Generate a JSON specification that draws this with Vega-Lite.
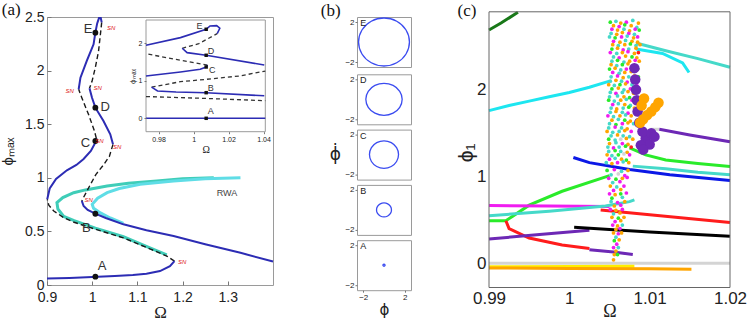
{
"$schema":"https://vega.github.io/schema/vega-lite/v6.json",
"padding":{"left":0,"top":0,"right":0,"bottom":0},
"background":"white",
"config":{"view":{"stroke":"#9a9a9a","strokeWidth":1},"font":"Liberation Sans",
"axis":{"grid":false,"domain":false,"labelFlush":false,"labelOverlap":false,"labelFont":"Liberation Sans","titleFont":"Liberation Sans","titleFontWeight":"normal","labelColor":"#222","titleColor":"#222","tickColor":"#777"}},
"resolve":{"scale":{"color":"independent"}},
"datasets":{
"a_lines":[
{"s":"L1","b":"stable","x":0.9,"y":0.06},{"s":"L1","b":"stable","x":0.95,"y":0.065},{"s":"L1","b":"stable","x":1.0,"y":0.074},{"s":"L1","b":"stable","x":1.05,"y":0.083},{"s":"L1","b":"stable","x":1.09,"y":0.093},{"s":"L1","b":"stable","x":1.12,"y":0.105},{"s":"L1","b":"stable","x":1.15,"y":0.13},{"s":"L1","b":"stable","x":1.172,"y":0.175},{"s":"L1","b":"stable","x":1.182,"y":0.222},
{"s":"U1","b":"unstable","x":1.182,"y":0.222},{"s":"U1","b":"unstable","x":1.165,"y":0.27},{"s":"U1","b":"unstable","x":1.129,"y":0.335},{"s":"U1","b":"unstable","x":1.069,"y":0.44},{"s":"U1","b":"unstable","x":1.007,"y":0.52},{"s":"U1","b":"unstable","x":0.96,"y":0.585},{"s":"U1","b":"unstable","x":0.937,"y":0.628},{"s":"U1","b":"unstable","x":0.915,"y":0.69},{"s":"U1","b":"unstable","x":0.904,"y":0.745},{"s":"U1","b":"unstable","x":0.9005,"y":0.8},
{"s":"S2","b":"stable","x":0.9005,"y":0.8},{"s":"S2","b":"stable","x":0.906,"y":0.9},{"s":"S2","b":"stable","x":0.92,"y":0.99},{"s":"S2","b":"stable","x":0.944,"y":1.07},{"s":"S2","b":"stable","x":0.965,"y":1.12},{"s":"S2","b":"stable","x":0.981,"y":1.175},{"s":"S2","b":"stable","x":0.997,"y":1.25},{"s":"S2","b":"stable","x":1.006,"y":1.32},{"s":"S2","b":"stable","x":1.009,"y":1.37},
{"s":"U2","b":"unstable","x":1.009,"y":1.37},{"s":"U2","b":"unstable","x":1.005,"y":1.437},{"s":"U2","b":"unstable","x":0.992,"y":1.59},{"s":"U2","b":"unstable","x":0.977,"y":1.747},{"s":"U2","b":"unstable","x":0.97,"y":1.825},
{"s":"S3","b":"stable","x":0.97,"y":1.825},{"s":"S3","b":"stable","x":0.974,"y":1.934},{"s":"S3","b":"stable","x":0.988,"y":2.09},{"s":"S3","b":"stable","x":1.003,"y":2.245},{"s":"S3","b":"stable","x":1.007,"y":2.354},{"s":"S3","b":"stable","x":1.011,"y":2.44},{"s":"S3","b":"stable","x":1.015,"y":2.49},{"s":"S3","b":"stable","x":1.019,"y":2.49},{"s":"S3","b":"stable","x":1.021,"y":2.45},
{"s":"U3","b":"unstable","x":1.021,"y":2.45},{"s":"U3","b":"unstable","x":1.019,"y":2.37},{"s":"U3","b":"unstable","x":1.014,"y":2.18},{"s":"U3","b":"unstable","x":1.007,"y":2.03},{"s":"U3","b":"unstable","x":0.9996,"y":1.9},{"s":"U3","b":"unstable","x":0.994,"y":1.835},
{"s":"S4","b":"stable","x":0.994,"y":1.835},{"s":"S4","b":"stable","x":0.9996,"y":1.747},{"s":"S4","b":"stable","x":1.007,"y":1.654},{"s":"S4","b":"stable","x":1.025,"y":1.53},{"s":"S4","b":"stable","x":1.04,"y":1.406},{"s":"S4","b":"stable","x":1.046,"y":1.312},
{"s":"U4","b":"unstable","x":1.046,"y":1.312},{"s":"U4","b":"unstable","x":1.038,"y":1.2},{"s":"U4","b":"unstable","x":1.025,"y":1.12},{"s":"U4","b":"unstable","x":1.008,"y":1.03},{"s":"U4","b":"unstable","x":0.99,"y":0.89},{"s":"U4","b":"unstable","x":0.98,"y":0.81},{"s":"U4","b":"unstable","x":0.977,"y":0.784},
{"s":"S5","b":"stable","x":0.977,"y":0.784},{"s":"S5","b":"stable","x":0.981,"y":0.737},{"s":"S5","b":"stable","x":0.99,"y":0.7},{"s":"S5","b":"stable","x":1.007,"y":0.665},{"s":"S5","b":"stable","x":1.03,"y":0.625},{"s":"S5","b":"stable","x":1.069,"y":0.566},{"s":"S5","b":"stable","x":1.12,"y":0.51},{"s":"S5","b":"stable","x":1.18,"y":0.457},{"s":"S5","b":"stable","x":1.25,"y":0.38},{"s":"S5","b":"stable","x":1.328,"y":0.3},{"s":"S5","b":"stable","x":1.4,"y":0.22},
{"s":"R1","b":"rwa1","x":1.269,"y":1.0},{"s":"R1","b":"rwa1","x":1.2,"y":0.99},{"s":"R1","b":"rwa1","x":1.143,"y":0.97},{"s":"R1","b":"rwa1","x":1.08,"y":0.95},{"s":"R1","b":"rwa1","x":1.033,"y":0.923},{"s":"R1","b":"rwa1","x":0.985,"y":0.887},{"s":"R1","b":"rwa1","x":0.959,"y":0.861},{"s":"R1","b":"rwa1","x":0.935,"y":0.815},{"s":"R1","b":"rwa1","x":0.922,"y":0.768},{"s":"R1","b":"rwa1","x":0.924,"y":0.71},{"s":"R1","b":"rwa1","x":0.937,"y":0.64},{"s":"R1","b":"rwa1","x":0.96,"y":0.6},{"s":"R1","b":"rwa1","x":1.007,"y":0.53},{"s":"R1","b":"rwa1","x":1.069,"y":0.45},{"s":"R1","b":"rwa1","x":1.129,"y":0.343},{"s":"R1","b":"rwa1","x":1.165,"y":0.28},
{"s":"R2","b":"rwa2","x":1.328,"y":1.0},{"s":"R2","b":"rwa2","x":1.25,"y":0.99},{"s":"R2","b":"rwa2","x":1.18,"y":0.97},{"s":"R2","b":"rwa2","x":1.106,"y":0.94},{"s":"R2","b":"rwa2","x":1.06,"y":0.9},{"s":"R2","b":"rwa2","x":1.033,"y":0.862},{"s":"R2","b":"rwa2","x":1.012,"y":0.81},{"s":"R2","b":"rwa2","x":1.0,"y":0.753},{"s":"R2","b":"rwa2","x":1.003,"y":0.715},{"s":"R2","b":"rwa2","x":1.015,"y":0.68},{"s":"R2","b":"rwa2","x":1.04,"y":0.625},{"s":"R2","b":"rwa2","x":1.069,"y":0.575}
],
"a_pts":[{"x":1.007,"y":0.078},{"x":1.007,"y":0.665},{"x":1.007,"y":1.343},{"x":1.007,"y":1.654},{"x":1.007,"y":2.354}],
"a_lbl":[{"x":0.9907,"y":2.385,"t":"E"},{"x":1.029,"y":1.66,"t":"D"},{"x":0.985,"y":1.327,"t":"C"},{"x":0.987,"y":0.535,"t":"B"},{"x":1.0217,"y":0.177,"t":"A"}],
"a_sn":[{"x":1.042,"y":2.4,"t":"SN"},{"x":0.95,"y":1.81,"t":"SN"},{"x":1.012,"y":1.835,"t":"SN"},{"x":1.016,"y":1.34,"t":"SN"},{"x":1.055,"y":1.29,"t":"SN"},{"x":0.992,"y":0.79,"t":"SN"},{"x":1.199,"y":0.21,"t":"SN"}],
"i_lines":[
{"s":"iA","b":"stable","x":0.9728,"y":0},{"s":"iA","b":"stable","x":1.041,"y":0},
{"s":"iU1","b":"unstable","x":0.9728,"y":0.58},{"s":"iU1","b":"unstable","x":1.007,"y":0.53},{"s":"iU1","b":"unstable","x":1.041,"y":0.47},
{"s":"iB","b":"stable","x":0.976,"y":0.83},{"s":"iB","b":"stable","x":0.9794,"y":0.728},{"s":"iB","b":"stable","x":0.99,"y":0.7},{"s":"iB","b":"stable","x":1.0072,"y":0.683},{"s":"iB","b":"stable","x":1.0404,"y":0.6},
{"s":"iU2","b":"unstable","x":0.976,"y":0.83},{"s":"iU2","b":"unstable","x":0.9925,"y":0.976},{"s":"iU2","b":"unstable","x":1.0075,"y":1.04},{"s":"iU2","b":"unstable","x":1.0263,"y":1.128},{"s":"iU2","b":"unstable","x":1.041,"y":1.26},
{"s":"iC","b":"stable","x":0.9728,"y":1.128},{"s":"iC","b":"stable","x":0.9925,"y":1.235},{"s":"iC","b":"stable","x":1.0038,"y":1.307},{"s":"iC","b":"stable","x":1.0072,"y":1.368},{"s":"iC","b":"stable","x":1.0079,"y":1.42},
{"s":"iU3","b":"unstable","x":1.0079,"y":1.42},{"s":"iU3","b":"unstable","x":0.99,"y":1.57},{"s":"iU3","b":"unstable","x":0.9728,"y":1.72},
{"s":"iD","b":"stable","x":0.9935,"y":1.867},{"s":"iD","b":"stable","x":0.9963,"y":1.75},{"s":"iD","b":"stable","x":1.0072,"y":1.68},{"s":"iD","b":"stable","x":1.0404,"y":1.42},
{"s":"iU4","b":"unstable","x":0.9935,"y":1.867},{"s":"iU4","b":"unstable","x":1.003,"y":1.99},{"s":"iU4","b":"unstable","x":1.0135,"y":2.256},
{"s":"iE","b":"stable","x":0.9728,"y":1.947},{"s":"iE","b":"stable","x":0.9925,"y":2.15},{"s":"iE","b":"stable","x":1.0072,"y":2.373},{"s":"iE","b":"stable","x":1.0094,"y":2.46},{"s":"iE","b":"stable","x":1.0132,"y":2.47},{"s":"iE","b":"stable","x":1.015,"y":2.4},{"s":"iE","b":"stable","x":1.0135,"y":2.256}
],
"i_pts":[{"x":1.0072,"y":0},{"x":1.0072,"y":0.683},{"x":1.0072,"y":1.368},{"x":1.0072,"y":1.68},{"x":1.0072,"y":2.373}],
"i_lbl":[{"x":1.0098,"y":0.2,"t":"A"},{"x":1.0098,"y":0.8,"t":"B"},{"x":1.0107,"y":1.28,"t":"C"},{"x":1.01,"y":1.795,"t":"D"},{"x":1.0034,"y":2.46,"t":"E"}],
"circ":[
{"p":"E","x":2.45,"y":0},{"p":"E","x":2.122,"y":1.2},{"p":"E","x":1.225,"y":2.078},{"p":"E","x":0,"y":2.4},{"p":"E","x":-1.225,"y":2.078},{"p":"E","x":-2.122,"y":1.2},{"p":"E","x":-2.45,"y":0},{"p":"E","x":-2.122,"y":-1.2},{"p":"E","x":-1.225,"y":-2.078},{"p":"E","x":0,"y":-2.4},{"p":"E","x":1.225,"y":-2.078},{"p":"E","x":2.122,"y":-1.2},
{"p":"D","x":1.75,"y":0},{"p":"D","x":1.516,"y":0.8},{"p":"D","x":0.875,"y":1.386},{"p":"D","x":0,"y":1.6},{"p":"D","x":-0.875,"y":1.386},{"p":"D","x":-1.516,"y":0.8},{"p":"D","x":-1.75,"y":0},{"p":"D","x":-1.516,"y":-0.8},{"p":"D","x":-0.875,"y":-1.386},{"p":"D","x":0,"y":-1.6},{"p":"D","x":0.875,"y":-1.386},{"p":"D","x":1.516,"y":-0.8},
{"p":"C","x":1.4,"y":0},{"p":"C","x":1.212,"y":0.69},{"p":"C","x":0.7,"y":1.195},{"p":"C","x":0,"y":1.38},{"p":"C","x":-0.7,"y":1.195},{"p":"C","x":-1.212,"y":0.69},{"p":"C","x":-1.4,"y":0},{"p":"C","x":-1.212,"y":-0.69},{"p":"C","x":-0.7,"y":-1.195},{"p":"C","x":0,"y":-1.38},{"p":"C","x":0.7,"y":-1.195},{"p":"C","x":1.212,"y":-0.69},
{"p":"B","x":0.72,"y":0},{"p":"B","x":0.624,"y":0.35},{"p":"B","x":0.36,"y":0.606},{"p":"B","x":0,"y":0.7},{"p":"B","x":-0.36,"y":0.606},{"p":"B","x":-0.624,"y":0.35},{"p":"B","x":-0.72,"y":0},{"p":"B","x":-0.624,"y":-0.35},{"p":"B","x":-0.36,"y":-0.606},{"p":"B","x":0,"y":-0.7},{"p":"B","x":0.36,"y":-0.606},{"p":"B","x":0.624,"y":-0.35},
{"p":"A","x":0.1,"y":0},{"p":"A","x":0.087,"y":0.05},{"p":"A","x":0.05,"y":0.087},{"p":"A","x":0,"y":0.1},{"p":"A","x":-0.05,"y":0.087},{"p":"A","x":-0.087,"y":0.05},{"p":"A","x":-0.1,"y":0},{"p":"A","x":-0.087,"y":-0.05},{"p":"A","x":-0.05,"y":-0.087},{"p":"A","x":0,"y":-0.1},{"p":"A","x":0.05,"y":-0.087},{"p":"A","x":0.087,"y":-0.05}
],
"c_lines":[
{"s":"c1","col":"darkgreen","x":0.99,"y":2.69},{"s":"c1","col":"darkgreen","x":0.9915,"y":2.77},{"s":"c1","col":"darkgreen","x":0.9936,"y":2.895},
{"s":"c2","col":"cyan","x":0.99,"y":1.76},{"s":"c2","col":"cyan","x":0.9925,"y":1.82},{"s":"c2","col":"cyan","x":0.995,"y":1.87},{"s":"c2","col":"cyan","x":0.9975,"y":1.92},{"s":"c2","col":"cyan","x":1.0,"y":1.97},{"s":"c2","col":"cyan","x":1.0025,"y":2.03},{"s":"c2","col":"cyan","x":1.005,"y":2.1},
{"s":"c3","col":"turq","x":1.0083,"y":2.54},{"s":"c3","col":"turq","x":1.012,"y":2.45},{"s":"c3","col":"turq","x":1.016,"y":2.36},{"s":"c3","col":"turq","x":1.02,"y":2.26},
{"s":"c4","col":"cyan","x":1.0083,"y":2.47},{"s":"c4","col":"cyan","x":1.0116,"y":2.42},{"s":"c4","col":"cyan","x":1.0141,"y":2.31},{"s":"c4","col":"cyan","x":1.0149,"y":2.2},
{"s":"c5b","col":"lgray","x":1.0101,"y":1.545},{"s":"c5b","col":"lgray","x":1.0112,"y":1.545},
{"s":"c5","col":"purple","x":1.0112,"y":1.545},{"s":"c5","col":"purple","x":1.015,"y":1.48},{"s":"c5","col":"purple","x":1.02,"y":1.4},
{"s":"c6","col":"green","x":1.0075,"y":1.33},{"s":"c6","col":"green","x":1.0095,"y":1.25},{"s":"c6","col":"green","x":1.012,"y":1.19},{"s":"c6","col":"green","x":1.016,"y":1.15},{"s":"c6","col":"green","x":1.02,"y":1.115},
{"s":"c7","col":"turq","x":1.0079,"y":1.12},{"s":"c7","col":"turq","x":1.012,"y":1.09},{"s":"c7","col":"turq","x":1.016,"y":1.05},{"s":"c7","col":"turq","x":1.02,"y":1.02},
{"s":"c8","col":"blue","x":1.0005,"y":1.22},{"s":"c8","col":"blue","x":1.0025,"y":1.16},{"s":"c8","col":"blue","x":1.0075,"y":1.08},{"s":"c8","col":"blue","x":1.0125,"y":1.02},{"s":"c8","col":"blue","x":1.02,"y":0.955},
{"s":"c9","col":"green","x":0.99,"y":0.49},{"s":"c9","col":"green","x":0.9921,"y":0.49},{"s":"c9","col":"green","x":0.9929,"y":0.54},{"s":"c9","col":"green","x":0.995,"y":0.67},{"s":"c9","col":"green","x":0.9991,"y":0.83},{"s":"c9","col":"green","x":1.005,"y":1.01},
{"s":"c10","col":"magenta","x":0.99,"y":0.665},{"s":"c10","col":"magenta","x":0.9975,"y":0.66},{"s":"c10","col":"magenta","x":1.005,"y":0.655},
{"s":"c11","col":"turq","x":0.99,"y":0.547},{"s":"c11","col":"turq","x":0.9975,"y":0.6},{"s":"c11","col":"turq","x":1.0045,"y":0.66},{"s":"c11","col":"turq","x":1.0075,"y":0.71},{"s":"c11","col":"turq","x":1.0081,"y":0.73},
{"s":"c12","col":"red","x":1.0039,"y":0.615},{"s":"c12","col":"red","x":1.01,"y":0.56},{"s":"c12","col":"red","x":1.02,"y":0.47},
{"s":"c13","col":"red","x":0.9921,"y":0.49},{"s":"c13","col":"red","x":0.9925,"y":0.4},{"s":"c13","col":"red","x":0.995,"y":0.29},{"s":"c13","col":"red","x":0.9991,"y":0.21},{"s":"c13","col":"red","x":1.0025,"y":0.17},
{"s":"c14","col":"purple","x":0.99,"y":0.28},{"s":"c14","col":"purple","x":0.9963,"y":0.33},{"s":"c14","col":"purple","x":1.0025,"y":0.38},
{"s":"c14b","col":"purple","x":1.0025,"y":0.155},{"s":"c14b","col":"purple","x":1.0055,"y":0.13},{"s":"c14b","col":"purple","x":1.0079,"y":0.1},
{"s":"c15","col":"black","x":1.0006,"y":0.415},{"s":"c15","col":"black","x":1.005,"y":0.39},{"s":"c15","col":"black","x":1.01,"y":0.36},{"s":"c15","col":"black","x":1.02,"y":0.31},
{"s":"c16","col":"lgray","x":0.99,"y":0.0},{"s":"c16","col":"lgray","x":1.02,"y":0.0},
{"s":"c17","col":"yellow","x":0.99,"y":-0.04},{"s":"c17","col":"yellow","x":1.0081,"y":-0.035},
{"s":"c18","col":"orange","x":0.99,"y":-0.055},{"s":"c18","col":"orange","x":1.0,"y":-0.06},{"s":"c18","col":"orange","x":1.01,"y":-0.065},{"s":"c18","col":"orange","x":1.0152,"y":-0.07}
],
"cloud":[
{"x":1.0051,"y":2.78,"col":"green"},{"x":1.0058,"y":2.79,"col":"turq"},{"x":1.0064,"y":2.77,"col":"orange"},{"x":1.0071,"y":2.78,"col":"magenta"},{"x":1.0079,"y":2.8,"col":"turq"},{"x":1.0086,"y":2.77,"col":"orange"},
{"x":1.0055,"y":2.74,"col":"orange"},{"x":1.0062,"y":2.73,"col":"magenta"},{"x":1.0069,"y":2.75,"col":"green"},{"x":1.0077,"y":2.74,"col":"orange"},{"x":1.0084,"y":2.72,"col":"turq"},
{"x":1.0053,"y":2.7,"col":"magenta"},{"x":1.006,"y":2.69,"col":"orange"},{"x":1.0068,"y":2.7,"col":"turq"},{"x":1.0075,"y":2.68,"col":"orange"},{"x":1.0082,"y":2.7,"col":"magenta"},{"x":1.0087,"y":2.69,"col":"green"},
{"x":1.0052,"y":2.65,"col":"turq"},{"x":1.0059,"y":2.64,"col":"orange"},{"x":1.0066,"y":2.66,"col":"orange"},{"x":1.0074,"y":2.65,"col":"magenta"},{"x":1.0081,"y":2.64,"col":"turq"},
{"x":1.005,"y":2.61,"col":"turq"},{"x":1.0057,"y":2.6,"col":"green"},{"x":1.0065,"y":2.61,"col":"magenta"},{"x":1.0072,"y":2.62,"col":"turq"},{"x":1.008,"y":2.6,"col":"orange"},{"x":1.0085,"y":2.61,"col":"magenta"},
{"x":1.0055,"y":2.56,"col":"magenta"},{"x":1.0063,"y":2.55,"col":"orange"},{"x":1.007,"y":2.57,"col":"turq"},{"x":1.0078,"y":2.56,"col":"orange"},{"x":1.0085,"y":2.55,"col":"orange"},
{"x":1.0054,"y":2.52,"col":"orange"},{"x":1.0061,"y":2.51,"col":"turq"},{"x":1.0069,"y":2.52,"col":"orange"},{"x":1.0076,"y":2.53,"col":"green"},{"x":1.0083,"y":2.51,"col":"turq"},{"x":1.0088,"y":2.52,"col":"orange"},
{"x":1.0053,"y":2.47,"col":"green"},{"x":1.006,"y":2.48,"col":"orange"},{"x":1.0067,"y":2.46,"col":"magenta"},{"x":1.0074,"y":2.47,"col":"turq"},{"x":1.0083,"y":2.48,"col":"orange"},
{"x":1.0051,"y":2.43,"col":"magenta"},{"x":1.0059,"y":2.42,"col":"turq"},{"x":1.0066,"y":2.43,"col":"orange"},{"x":1.0073,"y":2.44,"col":"magenta"},{"x":1.0081,"y":2.42,"col":"orange"},{"x":1.0086,"y":2.43,"col":"red"},
{"x":1.0055,"y":2.38,"col":"turq"},{"x":1.0062,"y":2.37,"col":"magenta"},{"x":1.007,"y":2.39,"col":"orange"},{"x":1.0078,"y":2.38,"col":"green"},{"x":1.0084,"y":2.37,"col":"orange"},
{"x":1.0053,"y":2.33,"col":"turq"},{"x":1.006,"y":2.34,"col":"green"},{"x":1.0068,"y":2.32,"col":"turq"},{"x":1.0075,"y":2.33,"col":"orange"},{"x":1.0082,"y":2.34,"col":"magenta"},{"x":1.0087,"y":2.33,"col":"orange"},
{"x":1.0052,"y":2.29,"col":"orange"},{"x":1.0059,"y":2.28,"col":"turq"},{"x":1.0066,"y":2.29,"col":"green"},{"x":1.0073,"y":2.3,"col":"orange"},{"x":1.008,"y":2.28,"col":"magenta"},
{"x":1.005,"y":2.24,"col":"green"},{"x":1.0057,"y":2.25,"col":"orange"},{"x":1.0064,"y":2.23,"col":"turq"},{"x":1.0071,"y":2.24,"col":"magenta"},{"x":1.0079,"y":2.25,"col":"turq"},{"x":1.0085,"y":2.24,"col":"darkgreen"},
{"x":1.0054,"y":2.2,"col":"magenta"},{"x":1.0062,"y":2.19,"col":"turq"},{"x":1.0069,"y":2.2,"col":"orange"},{"x":1.0077,"y":2.21,"col":"orange"},
{"x":1.0052,"y":2.15,"col":"turq"},{"x":1.006,"y":2.16,"col":"magenta"},{"x":1.0067,"y":2.14,"col":"orange"},{"x":1.0074,"y":2.15,"col":"turq"},{"x":1.0081,"y":2.16,"col":"orange"},{"x":1.0086,"y":2.15,"col":"green"},
{"x":1.0051,"y":2.1,"col":"turq"},{"x":1.0058,"y":2.11,"col":"orange"},{"x":1.0065,"y":2.1,"col":"turq"},{"x":1.0072,"y":2.09,"col":"magenta"},{"x":1.008,"y":2.1,"col":"turq"},
{"x":1.0049,"y":2.06,"col":"orange"},{"x":1.0056,"y":2.05,"col":"turq"},{"x":1.0063,"y":2.06,"col":"green"},{"x":1.007,"y":2.07,"col":"orange"},{"x":1.0078,"y":2.06,"col":"turq"},{"x":1.0084,"y":2.05,"col":"magenta"},
{"x":1.0053,"y":2.01,"col":"green"},{"x":1.0061,"y":2.02,"col":"orange"},{"x":1.0068,"y":2.0,"col":"turq"},{"x":1.0076,"y":2.01,"col":"magenta"},
{"x":1.0051,"y":1.97,"col":"turq"},{"x":1.0058,"y":1.96,"col":"magenta"},{"x":1.0066,"y":1.97,"col":"turq"},{"x":1.0073,"y":1.98,"col":"orange"},{"x":1.008,"y":1.96,"col":"orange"},
{"x":1.005,"y":1.92,"col":"turq"},{"x":1.006,"y":1.93,"col":"turq"},{"x":1.0068,"y":1.92,"col":"orange"},{"x":1.0075,"y":1.91,"col":"green"},
{"x":1.0049,"y":1.88,"col":"green"},{"x":1.0056,"y":1.87,"col":"turq"},{"x":1.0064,"y":1.88,"col":"orange"},{"x":1.0071,"y":1.89,"col":"turq"},{"x":1.0078,"y":1.88,"col":"magenta"},
{"x":1.0054,"y":1.83,"col":"magenta"},{"x":1.0061,"y":1.84,"col":"turq"},{"x":1.0069,"y":1.83,"col":"orange"},{"x":1.0076,"y":1.82,"col":"turq"},
{"x":1.0052,"y":1.79,"col":"turq"},{"x":1.0059,"y":1.78,"col":"orange"},{"x":1.0067,"y":1.79,"col":"turq"},{"x":1.0074,"y":1.8,"col":"green"},{"x":1.0081,"y":1.79,"col":"orange"},
{"x":1.0051,"y":1.74,"col":"turq"},{"x":1.0058,"y":1.75,"col":"orange"},{"x":1.0066,"y":1.74,"col":"turq"},{"x":1.0073,"y":1.73,"col":"magenta"},
{"x":1.0048,"y":1.7,"col":"magenta"},{"x":1.0055,"y":1.69,"col":"turq"},{"x":1.0063,"y":1.7,"col":"orange"},{"x":1.007,"y":1.71,"col":"turq"},{"x":1.0077,"y":1.7,"col":"orange"},
{"x":1.0053,"y":1.65,"col":"orange"},{"x":1.0061,"y":1.66,"col":"turq"},{"x":1.0069,"y":1.65,"col":"green"},{"x":1.0076,"y":1.64,"col":"orange"},
{"x":1.005,"y":1.61,"col":"turq"},{"x":1.0058,"y":1.6,"col":"green"},{"x":1.0066,"y":1.61,"col":"magenta"},{"x":1.0073,"y":1.62,"col":"orange"},{"x":1.008,"y":1.61,"col":"turq"},
{"x":1.0049,"y":1.56,"col":"turq"},{"x":1.0057,"y":1.57,"col":"magenta"},{"x":1.0065,"y":1.56,"col":"turq"},{"x":1.0072,"y":1.55,"col":"orange"},
{"x":1.0047,"y":1.52,"col":"orange"},{"x":1.0054,"y":1.51,"col":"turq"},{"x":1.0062,"y":1.52,"col":"turq"},{"x":1.0069,"y":1.53,"col":"orange"},{"x":1.0077,"y":1.52,"col":"magenta"},
{"x":1.0052,"y":1.47,"col":"turq"},{"x":1.006,"y":1.48,"col":"orange"},{"x":1.0067,"y":1.47,"col":"turq"},{"x":1.0075,"y":1.46,"col":"turq"},
{"x":1.0049,"y":1.43,"col":"green"},{"x":1.0057,"y":1.42,"col":"turq"},{"x":1.0064,"y":1.43,"col":"lgray"},{"x":1.0071,"y":1.44,"col":"orange"},{"x":1.0079,"y":1.43,"col":"orange"},
{"x":1.005,"y":1.38,"col":"orange"},{"x":1.0058,"y":1.39,"col":"turq"},{"x":1.0066,"y":1.38,"col":"magenta"},{"x":1.0073,"y":1.37,"col":"orange"},
{"x":1.0048,"y":1.34,"col":"turq"},{"x":1.0055,"y":1.33,"col":"magenta"},{"x":1.0062,"y":1.34,"col":"turq"},{"x":1.007,"y":1.35,"col":"green"},{"x":1.0077,"y":1.34,"col":"red"},
{"x":1.0049,"y":1.29,"col":"turq"},{"x":1.0057,"y":1.3,"col":"green"},{"x":1.0064,"y":1.29,"col":"turq"},{"x":1.0072,"y":1.28,"col":"orange"},
{"x":1.0047,"y":1.25,"col":"orange"},{"x":1.0053,"y":1.24,"col":"turq"},{"x":1.0061,"y":1.25,"col":"green"},{"x":1.0068,"y":1.26,"col":"lgray"},{"x":1.0075,"y":1.25,"col":"magenta"},
{"x":1.005,"y":1.2,"col":"magenta"},{"x":1.0057,"y":1.21,"col":"turq"},{"x":1.0065,"y":1.2,"col":"orange"},{"x":1.0071,"y":1.19,"col":"green"},
{"x":1.0046,"y":1.16,"col":"turq"},{"x":1.0053,"y":1.15,"col":"orange"},{"x":1.006,"y":1.16,"col":"magenta"},{"x":1.0067,"y":1.17,"col":"turq"},{"x":1.0074,"y":1.16,"col":"orange"},
{"x":1.0047,"y":1.07,"col":"green"},{"x":1.0056,"y":1.08,"col":"magenta"},{"x":1.0065,"y":1.06,"col":"turq"},{"x":1.0073,"y":1.07,"col":"orange"},
{"x":1.0052,"y":1.02,"col":"turq"},{"x":1.0061,"y":1.03,"col":"lgray"},{"x":1.0069,"y":1.01,"col":"magenta"},
{"x":1.0049,"y":0.98,"col":"magenta"},{"x":1.0058,"y":0.97,"col":"green"},{"x":1.0066,"y":0.98,"col":"orange"},{"x":1.0072,"y":0.99,"col":"magenta"},
{"x":1.0054,"y":0.93,"col":"turq"},{"x":1.0063,"y":0.94,"col":"magenta"},
{"x":1.0051,"y":0.89,"col":"orange"},{"x":1.0059,"y":0.88,"col":"turq"},{"x":1.0068,"y":0.89,"col":"magenta"},
{"x":1.0055,"y":0.84,"col":"magenta"},{"x":1.0064,"y":0.85,"col":"orange"},
{"x":1.005,"y":0.8,"col":"magenta"},{"x":1.0057,"y":0.79,"col":"orange"},{"x":1.0064,"y":0.8,"col":"green"},{"x":1.0071,"y":0.81,"col":"magenta"},
{"x":1.0053,"y":0.75,"col":"green"},{"x":1.0066,"y":0.76,"col":"turq"},
{"x":1.0052,"y":0.71,"col":"turq"},{"x":1.006,"y":0.7,"col":"magenta"},{"x":1.0069,"y":0.71,"col":"orange"},
{"x":1.0056,"y":0.66,"col":"orange"},{"x":1.0064,"y":0.67,"col":"magenta"},
{"x":1.0051,"y":0.62,"col":"magenta"},{"x":1.0058,"y":0.61,"col":"orange"},{"x":1.0066,"y":0.62,"col":"magenta"},
{"x":1.0055,"y":0.57,"col":"turq"},{"x":1.0063,"y":0.58,"col":"orange"},
{"x":1.0053,"y":0.53,"col":"orange"},{"x":1.0061,"y":0.52,"col":"green"},{"x":1.0068,"y":0.53,"col":"orange"},
{"x":1.0057,"y":0.48,"col":"magenta"},{"x":1.0064,"y":0.49,"col":"orange"},
{"x":1.0054,"y":0.44,"col":"magenta"},{"x":1.006,"y":0.43,"col":"orange"},{"x":1.0066,"y":0.44,"col":"turq"},
{"x":1.0058,"y":0.39,"col":"orange"},{"x":1.0063,"y":0.4,"col":"magenta"},
{"x":1.0055,"y":0.35,"col":"orange"},{"x":1.0061,"y":0.34,"col":"magenta"},{"x":1.0065,"y":0.35,"col":"orange"},
{"x":1.0058,"y":0.3,"col":"turq"},
{"x":1.0056,"y":0.26,"col":"green"},{"x":1.0062,"y":0.27,"col":"orange"},
{"x":1.0059,"y":0.22,"col":"magenta"},
{"x":1.0055,"y":0.18,"col":"magenta"},{"x":1.0061,"y":0.18,"col":"turq"},
{"x":1.0058,"y":0.14,"col":"orange"},
{"x":1.0056,"y":0.1,"col":"orange"},{"x":1.006,"y":0.1,"col":"green"},
{"x":1.0055,"y":0.04,"col":"orange"}
],
"blob":[
{"x":1.0095,"y":1.44,"col":"purple"},{"x":1.0091,"y":1.52,"col":"purple"},{"x":1.01,"y":1.37,"col":"purple"},{"x":1.0089,"y":1.36,"col":"purple"},{"x":1.0102,"y":1.5,"col":"purple"},{"x":1.0087,"y":1.62,"col":"purple"},{"x":1.0085,"y":1.75,"col":"purple"},{"x":1.0084,"y":1.88,"col":"purple"},{"x":1.0083,"y":2.0,"col":"purple"},{"x":1.0082,"y":2.12,"col":"purple"},{"x":1.0081,"y":2.25,"col":"purple"},{"x":1.0106,"y":1.46,"col":"purple"},{"x":1.0092,"y":1.31,"col":"purple"},
{"x":1.0097,"y":1.71,"col":"orange"},{"x":1.0092,"y":1.66,"col":"orange"},{"x":1.0102,"y":1.75,"col":"orange"},{"x":1.0107,"y":1.8,"col":"orange"},{"x":1.0111,"y":1.85,"col":"orange"},{"x":1.009,"y":1.82,"col":"orange"},{"x":1.0088,"y":1.62,"col":"orange"},{"x":1.0093,"y":1.9,"col":"orange"}
]
},
"spacing":42,
"hconcat":[
{
"width":226,"height":268,
"resolve":{"scale":{"x":"independent","y":"independent"},"axis":{"x":"independent","y":"independent"}},
"layer":[
{
"encoding":{
"x":{"field":"x","type":"quantitative","scale":{"domain":[0.9,1.4],"nice":false,"zero":false},"axis":{"values":[0.9,1,1.1,1.2,1.3],"format":"~g","title":"Ω","titleFont":"Liberation Serif","titleFontSize":17,"labelFontSize":14,"tickSize":-4,"labelPadding":9,"titlePadding":0}},
"y":{"field":"y","type":"quantitative","scale":{"domain":[0,2.5],"nice":false,"zero":false},"axis":{"values":[0,0.5,1,1.5,2,2.5],"format":"~g","title":"ϕₘₐₓ","titleFontSize":15,"labelFontSize":14,"tickSize":-4,"labelPadding":7,"titlePadding":9}}
},
"layer":[
{"data":{"values":[{"x":1.007}]},"mark":{"type":"rule","color":"#cdcdcd","strokeWidth":2},"encoding":{"y":{"datum":0},"y2":{"datum":2.5}}},
{"data":{"name":"a_lines"},"transform":[{"filter":"datum.b==='rwa1' || datum.b==='rwa2'"}],"mark":{"type":"line","strokeWidth":3},"encoding":{"color":{"field":"b","type":"nominal","scale":{"domain":["rwa1","rwa2"],"range":["#3fcdb8","#5fdde6"]},"legend":null},"detail":{"field":"s"},"order":{"value":null}}},
{"data":{"name":"a_lines"},"transform":[{"filter":"datum.b==='unstable'"}],"mark":{"type":"line","strokeWidth":1.4,"color":"#1a1a1a","strokeDash":[5,3]},"encoding":{"detail":{"field":"s"},"order":{"value":null}}},
{"data":{"name":"a_lines"},"transform":[{"filter":"datum.b==='stable'"}],"mark":{"type":"line","strokeWidth":2,"color":"#2c2cb4"},"encoding":{"detail":{"field":"s"},"order":{"value":null}}},
{"data":{"name":"a_pts"},"mark":{"type":"point","filled":true,"size":34,"color":"#111","opacity":1}},
{"data":{"name":"a_lbl"},"mark":{"type":"text","fontSize":13,"color":"#333"},"encoding":{"text":{"field":"t"}}},
{"data":{"name":"a_sn"},"mark":{"type":"text","fontSize":6,"fontStyle":"italic","color":"#e02020"},"encoding":{"text":{"field":"t"}}},
{"data":{"values":[{"x":1.298,"y":0.861,"t":"RWA"}]},"mark":{"type":"text","fontSize":9,"color":"#444"},"encoding":{"text":{"field":"t"}}},
{"data":{"values":[{"x":0.821,"y":2.565,"t":"(a)"}]},"mark":{"type":"text","font":"Liberation Serif","fontSize":17,"color":"#111"},"encoding":{"text":{"field":"t"}}}
]
},
{
"encoding":{
"x":{"field":"x","type":"quantitative","scale":{"domain":[0.9728,1.041],"range":[99,218.3],"nice":false,"zero":false},"axis":{"orient":"bottom","offset":-153.3,"values":[0.98,1,1.02,1.04],"format":"~g","title":"Ω","titleFont":"Liberation Serif","titleFontSize":10,"labelFontSize":7,"tickSize":2,"labelPadding":2,"titlePadding":2,"zindex":1}},
"y":{"field":"y","type":"quantitative","scale":{"domain":[-0.357,2.62],"range":[114.7,3],"nice":false,"zero":false},"axis":{"orient":"left","offset":-99,"values":[0,1,2],"title":"ϕₘₐₓ","titleFontSize":8,"labelFontSize":7,"tickSize":2,"labelPadding":2,"titlePadding":2,"zindex":1}}
},
"layer":[
{"data":{"values":[{"x":0.9728,"x2":1.041,"y":-0.357,"y2":2.62}]},"mark":{"type":"rect","fill":"white","stroke":"#9a9a9a","strokeWidth":1},"encoding":{"x2":{"field":"x2"},"y2":{"field":"y2"}}},
{"data":{"values":[{"x":1.0072}]},"mark":{"type":"rule","color":"#cdcdcd","strokeWidth":2},"encoding":{"y":{"datum":-0.357},"y2":{"datum":2.62}}},
{"data":{"name":"i_lines"},"transform":[{"filter":"datum.b==='unstable'"}],"mark":{"type":"line","strokeWidth":1.3,"color":"#333","strokeDash":[4,3]},"encoding":{"detail":{"field":"s"},"order":{"value":null}}},
{"data":{"name":"i_lines"},"transform":[{"filter":"datum.b==='stable'"}],"mark":{"type":"line","strokeWidth":1.6,"color":"#2c2cb4"},"encoding":{"detail":{"field":"s"},"order":{"value":null}}},
{"data":{"name":"i_pts"},"mark":{"type":"square","filled":true,"size":12,"color":"#111","opacity":1}},
{"data":{"name":"i_lbl"},"mark":{"type":"text","fontSize":9,"color":"#333"},"encoding":{"text":{"field":"t"}}}
]
}
]
},
{
"spacing":3.3,
"vconcat":[
{"width":54,"height":50,"layer":[
{"data":{"name":"circ"},"transform":[{"filter":"datum.p==='E'"}],"mark":{"type":"line","interpolate":"cardinal-closed","color":"#3b4cf0","strokeWidth":1.3},"encoding":{"x":{"field":"x","type":"quantitative","scale":{"domain":[-2.6,2.6],"nice":false,"zero":false},"axis":null},"y":{"field":"y","type":"quantitative","scale":{"domain":[-2.5,2.5],"nice":false,"zero":false},"axis":{"values":[-2,0,2],"title":null,"labelFontSize":8,"tickSize":2,"labelPadding":1}},"order":{"value":null}}},
{"data":{"values":[{"x":-2.0,"y":1.9,"t":"E"}]},"mark":{"type":"text","fontSize":9,"color":"#222"},"encoding":{"x":{"field":"x","type":"quantitative"},"y":{"field":"y","type":"quantitative"},"text":{"field":"t"}}},
{"data":{"values":[{"x":-5.13,"y":3.1,"t":"(b)"}]},"mark":{"type":"text","font":"Liberation Serif","fontSize":17,"color":"#111"},"encoding":{"x":{"field":"x","type":"quantitative"},"y":{"field":"y","type":"quantitative"},"text":{"field":"t"}}}
]},
{"width":54,"height":50,"layer":[
{"data":{"name":"circ"},"transform":[{"filter":"datum.p==='D'"}],"mark":{"type":"line","interpolate":"cardinal-closed","color":"#3b4cf0","strokeWidth":1.3},"encoding":{"x":{"field":"x","type":"quantitative","scale":{"domain":[-2.6,2.6],"nice":false,"zero":false},"axis":null},"y":{"field":"y","type":"quantitative","scale":{"domain":[-2.5,2.5],"nice":false,"zero":false},"axis":{"values":[-2,0,2],"title":null,"labelFontSize":8,"tickSize":2,"labelPadding":1}},"order":{"value":null}}},
{"data":{"values":[{"x":-2.0,"y":1.9,"t":"D"}]},"mark":{"type":"text","fontSize":9,"color":"#222"},"encoding":{"x":{"field":"x","type":"quantitative"},"y":{"field":"y","type":"quantitative"},"text":{"field":"t"}}}
]},
{"width":54,"height":50,"layer":[
{"data":{"name":"circ"},"transform":[{"filter":"datum.p==='C'"}],"mark":{"type":"line","interpolate":"cardinal-closed","color":"#3b4cf0","strokeWidth":1.3},"encoding":{"x":{"field":"x","type":"quantitative","scale":{"domain":[-2.6,2.6],"nice":false,"zero":false},"axis":null},"y":{"field":"y","type":"quantitative","scale":{"domain":[-2.5,2.5],"nice":false,"zero":false},"axis":{"values":[-2,0,2],"title":"ϕ̇","titleFont":"DejaVu Sans","titleFontSize":17,"titleAngle":0,"titleBaseline":"middle","titlePadding":10,"labelFontSize":8,"tickSize":2,"labelPadding":1}},"order":{"value":null}}},
{"data":{"values":[{"x":-2.0,"y":1.9,"t":"C"}]},"mark":{"type":"text","fontSize":9,"color":"#222"},"encoding":{"x":{"field":"x","type":"quantitative"},"y":{"field":"y","type":"quantitative"},"text":{"field":"t"}}}
]},
{"width":54,"height":50,"layer":[
{"data":{"name":"circ"},"transform":[{"filter":"datum.p==='B'"}],"mark":{"type":"line","interpolate":"cardinal-closed","color":"#3b4cf0","strokeWidth":1.3},"encoding":{"x":{"field":"x","type":"quantitative","scale":{"domain":[-2.6,2.6],"nice":false,"zero":false},"axis":null},"y":{"field":"y","type":"quantitative","scale":{"domain":[-2.5,2.5],"nice":false,"zero":false},"axis":{"values":[-2,0,2],"title":null,"labelFontSize":8,"tickSize":2,"labelPadding":1}},"order":{"value":null}}},
{"data":{"values":[{"x":-2.0,"y":1.9,"t":"B"}]},"mark":{"type":"text","fontSize":9,"color":"#222"},"encoding":{"x":{"field":"x","type":"quantitative"},"y":{"field":"y","type":"quantitative"},"text":{"field":"t"}}}
]},
{"width":54,"height":50,"layer":[
{"data":{"name":"circ"},"transform":[{"filter":"datum.p==='A'"}],"mark":{"type":"line","interpolate":"cardinal-closed","color":"#3b4cf0","strokeWidth":1.3},"encoding":{"x":{"field":"x","type":"quantitative","scale":{"domain":[-2.6,2.6],"nice":false,"zero":false},"axis":{"values":[-2,0,2],"title":"ϕ","titleFont":"DejaVu Sans","titleFontSize":15,"labelFontSize":8,"tickSize":2,"labelPadding":1,"titlePadding":1}},"y":{"field":"y","type":"quantitative","scale":{"domain":[-2.5,2.5],"nice":false,"zero":false},"axis":{"values":[-2,0,2],"title":null,"labelFontSize":8,"tickSize":2,"labelPadding":1}},"order":{"value":null}}},
{"data":{"values":[{"x":-2.0,"y":1.9,"t":"A"}]},"mark":{"type":"text","fontSize":9,"color":"#222"},"encoding":{"x":{"field":"x","type":"quantitative"},"y":{"field":"y","type":"quantitative"},"text":{"field":"t"}}}
]}
]
},
{
"width":241,"height":270.5,
"view":{"stroke":null},
"encoding":{
"x":{"field":"x","type":"quantitative","scale":{"domain":[0.99,1.02],"nice":false,"zero":false},"axis":{"values":[0.99,1,1.01,1.02],"format":"~g","title":"Ω","titleFont":"Liberation Serif","titleFontSize":18,"labelFontSize":17,"ticks":false,"labelPadding":3,"titlePadding":-4}},
"y":{"field":"y","type":"quantitative","scale":{"domain":[-0.28,2.84],"nice":false,"zero":false},"axis":{"values":[0,1,2],"format":"~g","title":"ϕ₁","titleFontSize":21,"labelFontSize":17,"ticks":false,"labelPadding":3,"titlePadding":0}},
"color":{"field":"col","type":"nominal","legend":null,"scale":{"domain":["darkgreen","cyan","turq","purple","lgray","green","blue","magenta","red","black","yellow","orange"],"range":["#187818","#1de6f0","#45d9c9","#6d28b5","#d4d4d4","#2aeb2a","#0b18e6","#f01cf0","#ff1c1c","#000000","#ffee00","#ffa500"]}}
},
"layer":[
{"data":{"name":"c_lines"},"mark":{"type":"line","strokeWidth":3},"encoding":{"detail":{"field":"s"},"order":{"value":null}}},
{"data":{"name":"cloud"},"mark":{"type":"point","filled":true,"size":14,"opacity":1}},
{"data":{"name":"blob"},"mark":{"type":"point","filled":true,"size":110,"opacity":1}},
{"data":{"values":[{"x":0.99,"x2":1.02,"y":-0.28,"y2":2.9}]},"mark":{"type":"rect","filled":false,"strokeWidth":1},"encoding":{"x2":{"field":"x2"},"y2":{"field":"y2"},"color":{"value":"#666"}}},
{"data":{"values":[{"x":0.98725,"y":2.912,"t":"(c)"}]},"mark":{"type":"text","font":"Liberation Serif","fontSize":17,"color":"#111"},"encoding":{"text":{"field":"t"},"color":{"value":"#111"}}}
]
}
]
}
